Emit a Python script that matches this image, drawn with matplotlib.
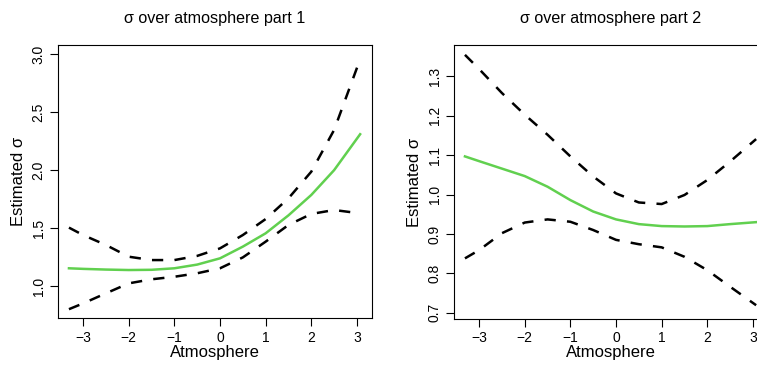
import matplotlib.pyplot as plt

plt.rcParams['font.family'] = ['Liberation Sans', 'DejaVu Sans']

# part 1
x1 = [-3.31, -3.0, -2.5, -2.0, -1.5, -1.0, -0.5, 0.0, 0.5, 1.0, 1.5, 2.0, 2.5, 3.07]
fit1 = [1.153, 1.148, 1.142, 1.138, 1.140, 1.153, 1.185, 1.239, 1.34, 1.455, 1.61, 1.786, 2.0, 2.31]
upper1 = [1.504, 1.44, 1.354, 1.253, 1.224, 1.224, 1.26, 1.325, 1.44, 1.578, 1.757, 1.987, 2.347, 2.957]
lower1 = [0.80, 0.85, 0.937, 1.023, 1.058, 1.08, 1.11, 1.153, 1.247, 1.383, 1.527, 1.622, 1.656, 1.627]

# part 2
x2 = [-3.31, -3.0, -2.5, -2.0, -1.5, -1.0, -0.5, 0.0, 0.5, 1.0, 1.5, 2.0, 2.5, 3.07]
fit2 = [1.097, 1.085, 1.066, 1.047, 1.02, 0.986, 0.957, 0.937, 0.925, 0.920, 0.919, 0.920, 0.925, 0.930]
upper2 = [1.355, 1.319, 1.258, 1.203, 1.152, 1.097, 1.046, 1.003, 0.980, 0.976, 0.999, 1.037, 1.084, 1.141]
lower2 = [0.838, 0.859, 0.902, 0.929, 0.937, 0.931, 0.910, 0.885, 0.874, 0.866, 0.842, 0.808, 0.766, 0.719]

xticks = [-3, -2, -1, 0, 1, 2, 3]
yticks1 = [1.0, 1.5, 2.0, 2.5, 3.0]
yticks2 = [0.7, 0.8, 0.9, 1.0, 1.1, 1.2, 1.3]

green = '#61D04F'

fig = plt.figure(figsize=(7.57, 3.67), dpi=100)
ax1 = fig.add_axes([58/757, 1-318/367, 314/757, 273/367])
ax2 = fig.add_axes([454/757, 1-319/367, 314/757, 274/367])

panels = [
    (ax1, x1, fit1, upper1, lower1, yticks1, (0.724, 3.08), 'σ over atmosphere part 1'),
    (ax2, x2, fit2, upper2, lower2, yticks2, (0.684, 1.38), 'σ over atmosphere part 2'),
]

for ax, x, fit, up, lo, yt, ylim, title in panels:
    ax.plot(x, up, color='black', lw=1.8, dashes=(4.5, 4.5))
    ax.plot(x, lo, color='black', lw=1.8, dashes=(4.5, 4.5))
    ax.plot(x, fit, color=green, lw=1.8)
    ax.set_xlim(-3.55, 3.33)
    ax.set_ylim(*ylim)
    ax.set_xticks(xticks)
    ax.set_xticklabels(['\u22123', '\u22122', '\u22121', '0', '1', '2', '3'])
    ax.set_yticks(yt)
    ax.set_yticklabels([f'{v:.1f}' for v in yt], rotation=90, va='center')
    ax.tick_params(labelsize=10, length=6, width=0.8, pad=3)
    ax.set_xlabel('Atmosphere', fontsize=12, labelpad=0)
    ax.set_ylabel('Estimated σ', fontsize=12, labelpad=4)
    ax.set_title(title, fontsize=11.6, pad=16)
    for s in ax.spines.values():
        s.set_linewidth(0.8)

fig.savefig('out.png', dpi=100)
